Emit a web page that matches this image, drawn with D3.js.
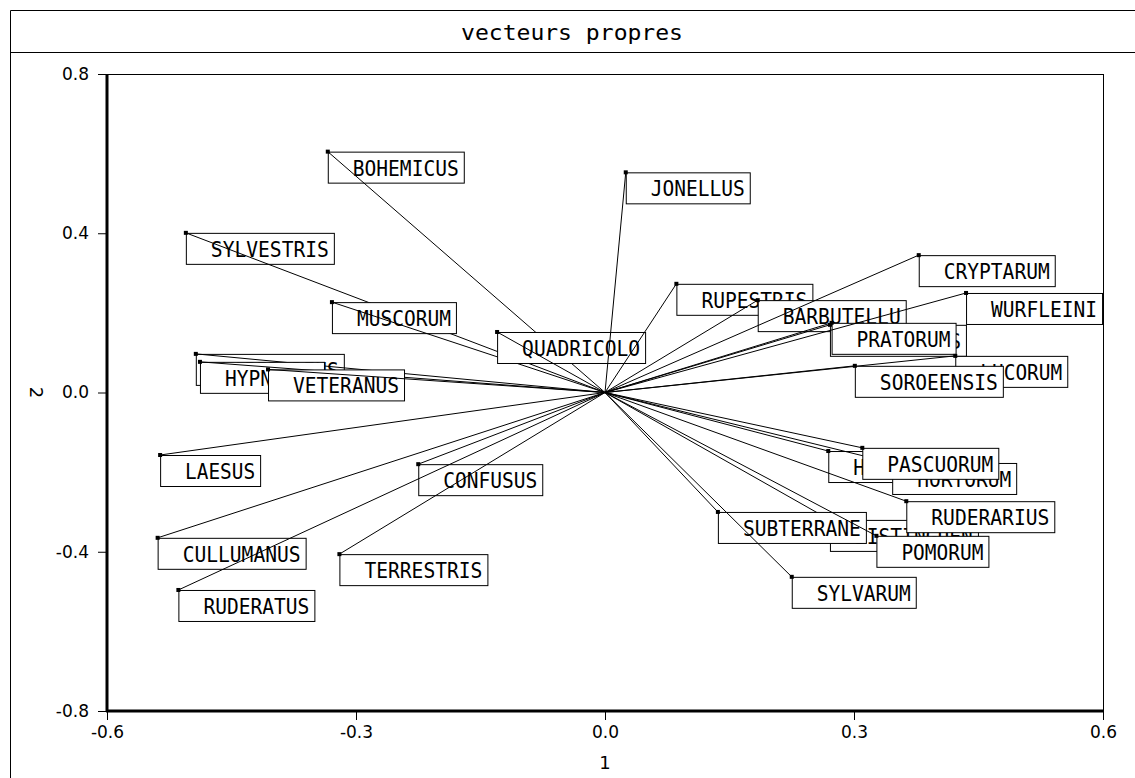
<!DOCTYPE html>
<html>
<head>
<meta charset="utf-8">
<script src="https://cdn.jsdelivr.net/npm/d3@7/dist/d3.min.js"></script>
<style>
  html, body { margin: 0; padding: 0; background: #fff; }
  svg { display: block; }
</style>
</head>
<body>
<div id="chart"></div>
<script>
// species labels (truncated to 10 chars, as in the original output) in drawing order
const species = [
  'BOHEMICUS', 'SYLVESTRIS', 'MUSCORUM', 'QUADRICOLO', 'JONELLUS',
  'LAPIDARIUS', 'HYPNORUM', 'VETERANUS', 'LAESUS', 'CONFUSUS',
  'CULLUMANUS', 'RUDERATUS', 'TERRESTRIS', 'RUPESTRIS', 'BARBUTELLU',
  'MESOMELAS', 'PRATORUM', 'CRYPTARUM', 'WURFLEINI', 'LUCORUM',
  'SOROEENSIS', 'HUMILIS', 'HORTORUM', 'PASCUORUM', 'DISTINGUEN',
  'RUDERARIUS', 'SUBTERRANE', 'POMORUM', 'SYLVARUM'
]
// eigenvector coordinates, axis 1
const axis1 = [
  -0.334, -0.505, -0.329, -0.130, 0.025,
  -0.493, -0.488, -0.406, -0.536, -0.225,
  -0.539, -0.514, -0.320, 0.086, 0.184,
  0.271, 0.273, 0.378, 0.435, 0.422,
  0.301, 0.269, 0.346, 0.310, 0.271,
  0.363, 0.136, 0.327, 0.225
]
// eigenvector coordinates, axis 2
const axis2 = [
  0.605, 0.401, 0.227, 0.152, 0.553,
  0.097, 0.077, 0.058, -0.157, -0.180,
  -0.365, -0.496, -0.406, 0.273, 0.232,
  0.170, 0.175, 0.345, 0.250, 0.092,
  0.067, -0.147, -0.177, -0.139, -0.320,
  -0.273, -0.300, -0.360, -0.463
]
const xTicks = [-0.6, -0.3, 0.0, 0.3, 0.6]
const yTicks = [-0.8, -0.4, 0.0, 0.4, 0.8]
const title = 'vecteurs propres'
const xTitle = '1'
const yTitle = '2'

const width = 1135
const height = 778
const plot = {left: 107, right: 1103, top: 74, bottom: 711}

const svg = d3.select('#chart')
  .append('svg')
  .attr('width', width)
  .attr('height', height)

// outer frame + title box
svg.append('path')
  .attr('d', `M10.5,${height} V10.5 H${width}`)
  .attr('fill', 'none')
  .attr('stroke', '#000')
svg.append('line')
  .attr('x1', 10).attr('x2', width)
  .attr('y1', 52.5).attr('y2', 52.5)
  .attr('stroke', '#000')
svg.append('text')
  .attr('x', 572)
  .attr('y', 40)
  .attr('text-anchor', 'middle')
  .attr('textLength', 222)
  .attr('lengthAdjust', 'spacingAndGlyphs')
  .style('font-family', 'DejaVu Sans Mono')
  .style('font-size', '22px')
  .text(title)

const x = d3.scaleLinear().domain([-0.6, 0.6]).range([plot.left, plot.right])
const y = d3.scaleLinear().domain([-0.8, 0.8]).range([plot.bottom, plot.top])

const fmt = d => d.toFixed(1).replace('\u2212', '-')

// plot frame
svg.append('rect')
  .attr('x', plot.left + 0.5)
  .attr('y', plot.top + 0.5)
  .attr('width', plot.right - plot.left)
  .attr('height', plot.bottom - plot.top)
  .attr('fill', 'none')
  .attr('stroke', '#000')

const yAxis = svg.append('g')
  .attr('transform', `translate(${plot.left},0)`)
  .call(d3.axisLeft(y).tickValues(yTicks).tickFormat(fmt).tickSize(9).tickPadding(9))
const xAxis = svg.append('g')
  .attr('transform', `translate(0,${plot.bottom})`)
  .call(d3.axisBottom(x).tickValues(xTicks).tickFormat(fmt).tickSize(9).tickPadding(6))

;[xAxis, yAxis].forEach(g => {
  g.select('.domain').remove()
  g.selectAll('line').attr('stroke', '#000')
  g.selectAll('text')
    .attr('fill', '#000')
    .style('font-family', 'DejaVu Sans')
    .style('font-size', '17px')
})

// thick left and bottom axis lines
svg.append('line')
  .attr('x1', plot.left).attr('x2', plot.left)
  .attr('y1', plot.top).attr('y2', plot.bottom + 1)
  .attr('stroke', '#000').attr('stroke-width', 3)
svg.append('line')
  .attr('x1', plot.left - 1).attr('x2', plot.right + 1)
  .attr('y1', plot.bottom).attr('y2', plot.bottom)
  .attr('stroke', '#000').attr('stroke-width', 3)

svg.append('text')
  .attr('x', x(0))
  .attr('y', 769)
  .attr('text-anchor', 'middle')
  .style('font-family', 'DejaVu Sans')
  .style('font-size', '18px')
  .text(xTitle)
svg.append('text')
  .attr('transform', `translate(30,${y(0)}) rotate(90)`)
  .attr('text-anchor', 'middle')
  .style('font-family', 'DejaVu Sans')
  .style('font-size', '18px')
  .text(yTitle)

// vectors: for each species the label box, then the line to the origin, then the point
const charW = 12
const boxH = 31
const g = svg.append('g')
species.forEach((name, i) => {
  const px = x(axis1[i])
  const py = y(axis2[i])
  const bw = name.length * charW + 28
  g.append('rect')
    .attr('x', px + 0.5)
    .attr('y', py + 0.5)
    .attr('width', bw)
    .attr('height', boxH)
    .attr('fill', '#fff')
    .attr('stroke', '#000')
  g.append('text')
    .attr('x', px + 25)
    .attr('y', py + 24)
    .attr('textLength', name.length * charW - 2)
    .attr('lengthAdjust', 'spacingAndGlyphs')
    .style('font-family', 'DejaVu Sans Mono')
    .style('font-size', '21px')
    .text(name)
  g.append('line')
    .attr('x1', x(0)).attr('y1', y(0))
    .attr('x2', px).attr('y2', py)
    .attr('stroke', '#000')
  g.append('rect')
    .attr('x', px - 2)
    .attr('y', py - 2)
    .attr('width', 4)
    .attr('height', 4)
    .attr('fill', '#000')
})
</script>
</body>
</html>
